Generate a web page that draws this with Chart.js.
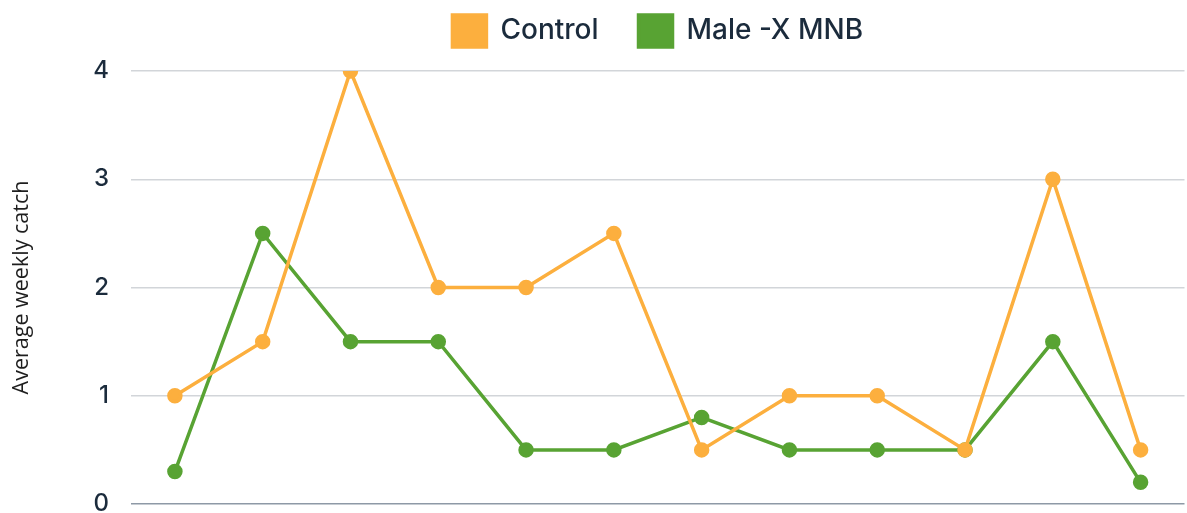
<!DOCTYPE html>
<html>
<head>
<meta charset="utf-8">
<title>Average weekly catch</title>
<script src="https://cdn.jsdelivr.net/npm/chart.js@4"></script>
<style>
  html, body { margin: 0; padding: 0; background: #fff; overflow: hidden; }
  #wrap { position: relative; width: 1195px; height: 554px; }
</style>
</head>
<body>
<div id="wrap"><canvas id="myChart"></canvas></div>
<script>
// data
var weeks = ['1', '2', '3', '4', '5', '6', '7', '8', '9', '10', '11', '12'];
var controlCatch = [1, 1.5, 4, 2, 2, 2.5, 0.5, 1, 1, 0.5, 3, 0.5];
var maleMnbCatch = [0.3, 2.5, 1.5, 1.5, 0.5, 0.5, 0.8, 0.5, 0.5, 0.5, 1.5, 0.2];
var yTicks = [0, 1, 2, 3, 4];

var orange = '#FCAF3E';
var green = '#58A333';
var ink = '#1B2B3C';

// give the legend some extra room under it so it sits higher above the plot
var legendGap = {
    id: 'legendGap',
    beforeLayout: function (chart) {
        var lg = chart.legend;
        if (lg && !lg._gapPatched) {
            var fit = lg.fit;
            lg.fit = function () {
                fit.call(this);
                this.height += 14;
            };
            lg._gapPatched = true;
        }
    }
};

var ctx = document.getElementById('myChart').getContext('2d');
var chart = new Chart(ctx, {
    type: 'line',
    data: {
        labels: weeks,
        datasets: [{
            label: 'Control',
            data: controlCatch,
            borderColor: orange,
            backgroundColor: orange,
            borderWidth: 3.5,
            pointRadius: 6,
            pointHoverRadius: 7,
            tension: 0
        }, {
            label: 'Male -X MNB',
            data: maleMnbCatch,
            borderColor: green,
            backgroundColor: green,
            borderWidth: 3.5,
            pointRadius: 6,
            pointHoverRadius: 7,
            tension: 0
        }]
    },
    plugins: [legendGap],
    options: {
        responsive: true,
        maintainAspectRatio: false,
        animation: false,
        layout: { padding: { top: -25, bottom: 42, left: 0, right: 0 } },
        plugins: {
            legend: {
                position: 'top',
                fullSize: false,
                labels: {
                    boxWidth: 34,
                    boxHeight: 32,
                    padding: 40,
                    color: ink,
                    font: { family: 'Inter', size: 28, weight: 500 }
                }
            },
            tooltip: { enabled: false }
        },
        scales: {
            x: {
                offset: true,
                ticks: { display: false },
                grid: { display: false },
                border: { display: false }
            },
            y: {
                min: 0,
                max: 4,
                afterBuildTicks: function (axis) {
                    axis.ticks = yTicks.map(function (v) { return { value: v }; });
                },
                afterFit: function (axis) {
                    axis.width = 131;
                    axis.paddingTop = 71;
                },
                ticks: {
                    padding: 22,
                    color: ink,
                    font: { family: 'Inter', size: 24, weight: 500 }
                },
                grid: {
                    drawTicks: false,
                    lineWidth: 1.5,
                    color: function (c) { return c.tick && c.tick.value === 0 ? '#8E99A6' : '#D2D5D9'; }
                },
                border: { display: false },
                title: {
                    display: true,
                    text: 'Average weekly catch',
                    color: '#1E1E1E',
                    padding: { top: 9, bottom: 10 },
                    font: { family: 'Open Sans', size: 21.5, weight: 500 }
                }
            }
        }
    }
});
</script>
</body>
</html>
